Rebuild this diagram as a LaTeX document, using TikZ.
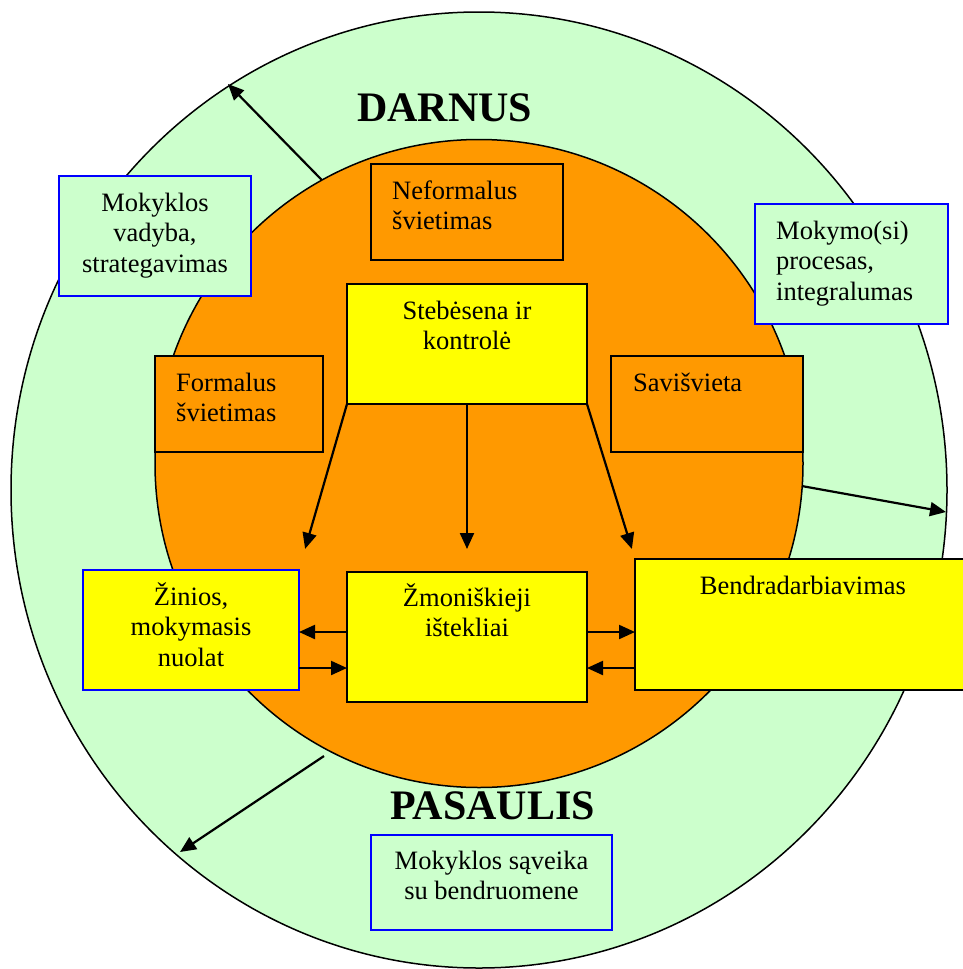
\documentclass[tikz,border=0pt]{standalone}
\usepackage{fontspec}
\setmainfont{Liberation Serif}
\usetikzlibrary{arrows.meta,shapes.geometric}
\definecolor{lgreen}{HTML}{CCFFCC}
\definecolor{orng}{HTML}{FF9900}
\definecolor{yel}{HTML}{FFFF00}
\definecolor{bblue}{HTML}{0000FF}
\newcommand{\tstr}{\rule{0pt}{26pt}}
\newcommand{\bodyfnt}{\fontsize{26.5}{30.5}\selectfont}
\begin{document}
\begin{tikzpicture}[x=1pt,y=-1pt,
  box/.style={rectangle,draw=black,line width=1.7pt,inner sep=0,outer sep=0},
  gbox/.style={box,draw=bblue,fill=lgreen},
  obox/.style={box,fill=orng},
  ybox/.style={box,fill=yel},
  yboxb/.style={box,draw=bblue,fill=yel},
  txtc/.style={inner sep=0,font=\bodyfnt,align=center,anchor=north},
  txtl/.style={inner sep=0,font=\bodyfnt,align=left,anchor=north west},
  big/.style={inner sep=0,font=\fontsize{42}{46}\selectfont\bfseries,anchor=base west},
  arr/.style={line width=2.2pt,-{Triangle[length=16pt,width=14pt]}}
]
\useasboundingbox (0,0) rectangle (963,969);
% circles
\node[ellipse,draw=black,line width=1.5pt,fill=lgreen,inner sep=0,outer sep=0,
      minimum width=936pt,minimum height=956pt] (outer) at (479,490) {};
\node[circle,draw=black,line width=1.5pt,fill=orng,inner sep=0,outer sep=0,
      minimum size=648pt] (inner) at (479,463.5) {};
% titles
\node[big] (darnus) at (357,121) {DARNUS};
\node[big] (pasaulis) at (390,819) {PASAULIS};
% boxes
\node[gbox,minimum width=192pt,minimum height=120pt] (vad) at (155,236) {};
\node[obox,minimum width=192pt,minimum height=96pt] (nef) at (467,212) {};
\node[ybox,minimum width=240pt,minimum height=120pt] (steb) at (467,344) {};
\node[gbox,minimum width=193pt,minimum height=120pt] (moky) at (851.5,264) {};
\node[obox,minimum width=168pt,minimum height=96pt] (form) at (239,404) {};
\node[obox,minimum width=192pt,minimum height=96pt] (sav) at (707,404) {};
\node[yboxb,minimum width=216pt,minimum height=120pt] (zin) at (191,630) {};
\node[ybox,minimum width=240pt,minimum height=130pt] (zmo) at (467,637) {};
\node[ybox,minimum width=336pt,minimum height=131pt] (bend) at (803,624.5) {};
\node[gbox,minimum width=241pt,minimum height=95pt] (sav2) at (491.5,882.5) {};
% texts
\node[txtc] (tvad) at (155,185) {\tstr Mokyklos\\vadyba,\\strategavimas};
\node[txtl] (tnef) at (392,173) {\tstr Neformalus\\švietimas};
\node[txtc] (tsteb) at (467,293) {\tstr Stebėsena ir\\kontrolė};
\node[txtl] (tmoky) at (776,213) {\tstr Mokymo(si)\\procesas,\\integralumas};
\node[txtl] (tform) at (176,365) {\tstr Formalus\\švietimas};
\node[txtl] (tsav) at (633,365) {\tstr Savišvieta};
\node[txtc] (tzin) at (191,579) {\tstr Žinios,\\mokymasis\\nuolat};
\node[txtc] (tzmo) at (467,580) {\tstr Žmoniškieji\\ištekliai};
\node[txtc] (tbend) at (803,568) {\tstr Bendradarbiavimas};
\node[txtc] (tsav2) at (491.5,843) {\tstr Mokyklos sąveika\\su bendruomene};
% arrows between boxes
\draw[arr,shorten >=22pt] (steb.south west) -- (zin.north east);
\draw[arr,shorten >=23pt] (steb.south) -- (zmo.north);
\draw[arr,shorten >=10.5pt] (steb.south east) -- (bend.north west);
\draw[arr] ([yshift=5pt]zmo.west) -- ([yshift=5pt]zmo.west -| zin.east);
\draw[arr] ([yshift=-31pt]zmo.west -| zin.east) -- ([yshift=-31pt]zmo.west);
\draw[arr] ([yshift=5pt]zmo.east) -- ([yshift=5pt]zmo.east -| bend.west);
\draw[arr] ([yshift=-31pt]zmo.east -| bend.west) -- ([yshift=-31pt]zmo.east);
% arrows from inner to outer circle
\coordinate (tipA) at (228,84);
\coordinate (tipB) at (946,512);
\coordinate (tipC) at (180,852);
\coordinate (startC) at (324,756);
\draw[arr] (inner.119) -- (tipA);
\draw[arr] (inner.-4.3) -- (tipB);
\draw[arr] (startC) -- (tipC);
\end{tikzpicture}
\end{document}
